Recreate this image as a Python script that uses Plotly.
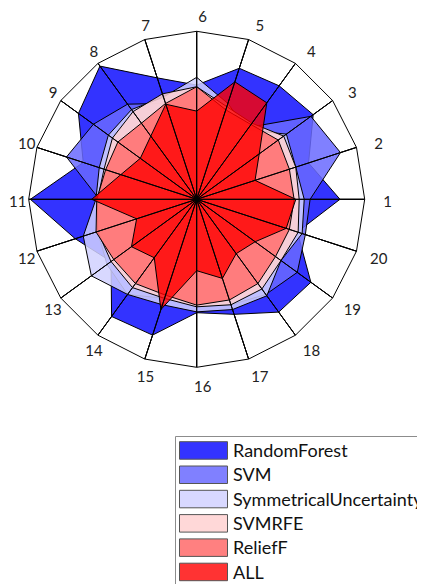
import plotly.graph_objects as go

categories = [str(i) for i in range(1, 21)]

random_forest = [0.853, 0.70, 0.857, 0.835, 0.82, 0.68, 0.76, 0.98, 0.87, 0.71,
                 0.99, 0.76, 0.63, 0.862, 0.85, 0.675, 0.72, 0.83, 0.84, 0.63]
svm = [0.675, 0.90, 0.84, 0.53, 0.50, 0.55, 0.60, 0.70, 0.76, 0.815,
       0.58, 0.62, 0.66, 0.70, 0.62, 0.63, 0.66, 0.70, 0.74, 0.68]
symmetrical_uncertainty = [0.64, 0.62, 0.66, 0.51, 0.60, 0.726, 0.64, 0.66, 0.65, 0.61,
                           0.60, 0.71, 0.775, 0.70, 0.66, 0.67, 0.69, 0.71, 0.62, 0.66]
svmrfe = [0.61, 0.62, 0.64, 0.56, 0.58, 0.67, 0.66, 0.645, 0.62, 0.58,
          0.59, 0.62, 0.63, 0.65, 0.62, 0.64, 0.66, 0.66, 0.62, 0.635]
relieff = [0.58, 0.58, 0.60, 0.55, 0.56, 0.67, 0.60, 0.56, 0.58, 0.57,
           0.595, 0.63, 0.61, 0.62, 0.60, 0.63, 0.63, 0.62, 0.58, 0.58]
all_features = [0.59, 0.365, 0.46, 0.71, 0.735, 0.525, 0.595, 0.465, 0.415, 0.475,
                0.625, 0.376, 0.48, 0.43, 0.69, 0.425, 0.495, 0.40, 0.43, 0.56]

series_names = ["RandomForest", "SVM", "SymmetricalUncertainty", "SVMRFE", "ReliefF", "ALL"]
series_values = [random_forest, svm, symmetrical_uncertainty, svmrfe, relieff, all_features]
fill_colors = ["rgba(15,15,255,0.85)", "rgba(106,106,255,0.85)", "rgba(209,209,255,0.85)",
               "rgba(255,209,209,0.85)", "rgba(255,117,117,0.92)", "rgba(255,0,0,0.8)"]
legend_colors = ["#3333FF", "#8080FF", "#D8D8FF", "#FFD8D8", "#FF8080", "#FF3333"]

W, H = 425, 584
OFF = 8.0  # page body margin
FONT = "Lato"

fig = go.Figure()
for name, vals, col in zip(series_names, series_values, fill_colors):
    fig.add_trace(go.Scatterpolar(
        r=vals + vals[:1], theta=categories + categories[:1],
        mode="lines", fill="toself", fillcolor=col, name=name,
        line=dict(color="black", width=1),
        showlegend=False, hoverinfo="skip"))

# spokes on top
spoke_r, spoke_t = [], []
for c in categories:
    spoke_r += [0, 1, 0]
    spoke_t += [c, c, c]
fig.add_trace(go.Scatterpolar(r=spoke_r, theta=spoke_t, mode="lines",
                              line=dict(color="black", width=1), showlegend=False,
                              hoverinfo="skip"))
fig.add_trace(go.Scatterpolar(r=[0], theta=[categories[0]], mode="markers",
                              marker=dict(color="black", size=6), showlegend=False,
                              hoverinfo="skip"))
# category labels on an overlaid, slightly larger polar (label ring)
fig.add_trace(go.Scatterpolar(r=[1] * len(categories), theta=categories, text=categories,
                              mode="text", textposition="middle center", cliponaxis=False,
                              textfont=dict(family=FONT, size=15, color="#222222"),
                              showlegend=False, hoverinfo="skip", subplot="polar2"))

cx, cy, R = 196.7 - OFF, 199.3 - OFF, 168.0
lx, ly, LR = cx + 6.0, cy + 3.5, 185.0

def polar_axes():
    return dict(type="category", categoryarray=categories, rotation=0,
                direction="counterclockwise")

fig.update_layout(
    width=W, height=H, margin=dict(l=0, r=0, t=0, b=0),
    paper_bgcolor="white", plot_bgcolor="white", showlegend=False,
    polar=dict(
        domain=dict(x=[(cx - R) / W, (cx + R) / W], y=[1 - (cy + R) / H, 1 - (cy - R) / H]),
        gridshape="linear", bgcolor="white",
        radialaxis=dict(range=[0, 1], visible=False, showgrid=False),
        angularaxis=dict(**polar_axes(), showgrid=True, gridcolor="black",
                         gridwidth=1, showline=True, linecolor="black", linewidth=1,
                         ticks="", showticklabels=False),
    ),
    polar2=dict(
        domain=dict(x=[(lx - LR) / W, (lx + LR) / W], y=[1 - (ly + LR) / H, 1 - (ly - LR) / H]),
        bgcolor="rgba(0,0,0,0)",
        radialaxis=dict(range=[0, 1], visible=False),
        angularaxis=dict(**polar_axes(), visible=False),
    ),
)

# manual legend
shapes = []
annotations = []
def px(x):
    return (x - OFF) / W
def py(y):
    return 1 - (y - OFF) / H
shapes.append(dict(type="rect", xref="paper", yref="paper",
                   x0=px(175.5), x1=px(445), y0=py(436.5), y1=py(600),
                   line=dict(color="#8c8c8c", width=1), fillcolor="rgba(0,0,0,0)"))
for i, (name, col) in enumerate(zip(series_names, legend_colors)):
    top = 441.7 + i * 24.3
    shapes.append(dict(type="rect", xref="paper", yref="paper",
                       x0=px(179.5), x1=px(227.5), y0=py(top), y1=py(top + 17.5),
                       line=dict(color="#555555", width=1), fillcolor=col))
    annotations.append(dict(xref="paper", yref="paper", x=px(230.5), y=py(top + 8.5),
                            text=name, showarrow=False, xanchor="left", yanchor="middle",
                            font=dict(family=FONT, size=18, color="#111111")))
fig.update_layout(shapes=shapes, annotations=annotations)

fig.write_html("out.html")
